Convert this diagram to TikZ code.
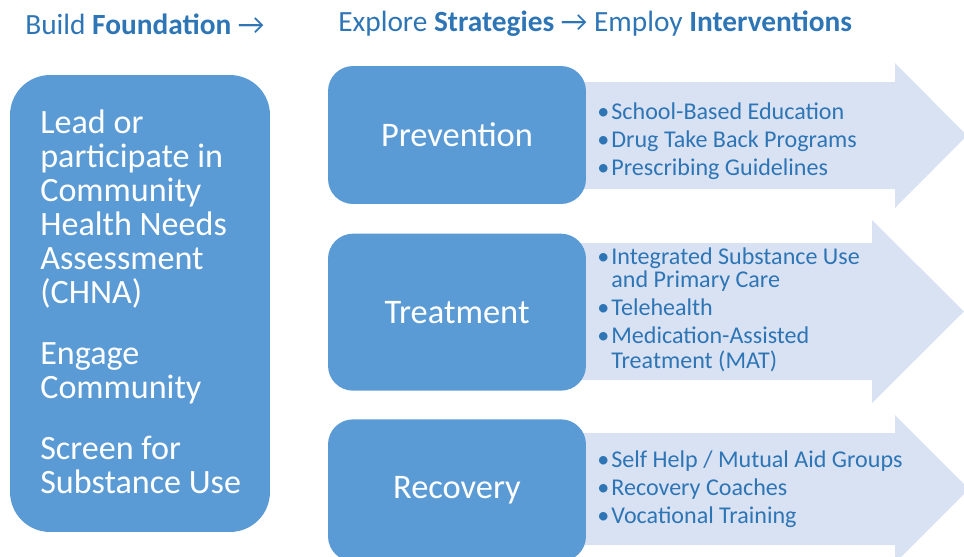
\documentclass[tikz,border=0pt]{standalone}
\usepackage{fontspec}
\setmainfont{Carlito}
\usetikzlibrary{positioning}
\definecolor{boxblue}{HTML}{5B9BD5}
\definecolor{bandblue}{HTML}{D9E2F3}
\definecolor{txtblue}{HTML}{2E75B6}
\newcommand\bul{\makebox[8pt][l]{\textbullet}}

\begin{document}
\begin{tikzpicture}[x=0.02cm,y=-0.02cm,
  stage/.style={fill=boxblue,rounded corners=0.5cm,minimum width=5.16cm,text=white,font=\fontsize{19.6}{21}\selectfont},
  items/.style={anchor=west,align=left,inner sep=0pt,text=txtblue,font=\fontsize{13.7}{16}\selectfont},
  head/.style={anchor=west,inner sep=0pt,text=txtblue,font=\fontsize{16.7}{18}\selectfont},
  band/.style={fill=bandblue}]
\useasboundingbox (0,0) rectangle (964,556);
\clip (0,0) rectangle (964,556);
% headings
\node[head] (hfound) at (25,24) {Build \textbf{Foundation} →};
\node[head] (hstrat) at (338,24) {Explore \textbf{Strategies} → Employ \textbf{Interventions}};
% big arrows behind the boxes
\fill[band] (560,82) -- (895,82) -- (895,63) -- (967,135.5) -- (895,208) -- (895,189) -- (560,189) -- cycle;
\fill[band] (560,243) -- (872,243) -- (872,220) -- (964,311.5) -- (872,403) -- (872,380) -- (560,380) -- cycle;
\fill[band] (560,433) -- (895,433) -- (895,415) -- (969,489) -- (895,563) -- (895,545) -- (560,545) -- cycle;
% foundation
\node[fill=boxblue,rounded corners=0.8cm,minimum width=5.2cm,minimum height=9.14cm,text=white] (found) at (140,303.5) {};
\node[anchor=west,align=left,inner sep=0pt,text=white,font=\fontsize{19.4}{19.35}\selectfont] (ftext) at (40,302)
  {Lead or\\ participate in\\ Community\\ Health Needs\\ Assessment\\ (CHNA)\\[15.4pt]
   Engage\\ Community\\[15.4pt] Screen for\\ Substance Use};
% strategies
\node[stage,minimum height=2.76cm] (prev) at (457,135) {Prevention};
\node[stage,minimum height=3.14cm,below=0.58cm of prev] (treat) {Treatment};
\node[stage,minimum height=2.84cm,below=0.56cm of treat] (recov) {Recovery};
% interventions
\node[items] (iprev) at (597,141) {\bul School-Based Education\\ \bul Drug Take Back Programs\\ \bul Prescribing Guidelines};
\node[items] (itreat) at (597,310) {\bul Integrated Substance Use\\[-2.9pt] \hphantom{\bul}and Primary Care\\
  \bul Telehealth\\ \bul Medication-Assisted\\[-1.8pt] \hphantom{\bul}Treatment (MAT)};
\node[items] (irecov) at (597,489) {\bul Self Help / Mutual Aid Groups\\ \bul Recovery Coaches\\ \bul Vocational Training};
\end{tikzpicture}
\end{document}
